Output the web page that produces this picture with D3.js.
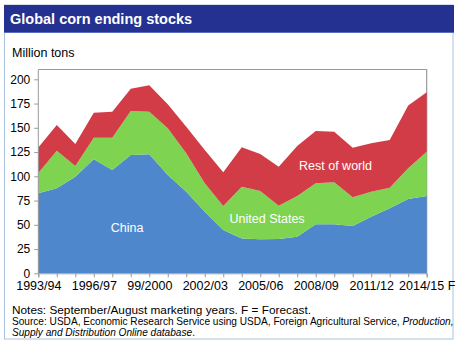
<!DOCTYPE html>
<html><head><meta charset="utf-8">
<script src="https://cdn.jsdelivr.net/npm/d3@7"></script>
<style>
html,body{margin:0;padding:0;background:#fff;}
svg{display:block;font-family:"Liberation Sans",Arial,Helvetica,sans-serif;}
</style></head>
<body>
<svg id="c" width="460" height="346"></svg>
<script>
const years = ["1993/94","1994/95","1995/96","1996/97","1997/98","1998/99","99/2000","2000/01","2001/02","2002/03","2003/04","2004/05","2005/06","2006/07","2007/08","2008/09","2009/10","2010/11","2011/12","2012/13","2013/14","2014/15 F"];
const tickLabels = ["1993/94","1996/97","99/2000","2002/03","2005/06","2008/09","2011/12","2014/15 F"];
const china = [82.5,87.6,99.6,117.5,106.5,122,122.7,101.3,84,63.5,44.6,36,35,35.3,37.7,50.5,50.5,48.8,58.4,67,76.6,79.7];
const unitedStates = [21,38.8,11,22.3,33.3,45.3,43.9,48.2,39.7,29.3,24.8,53.3,49.8,34.4,42,42.3,43.3,29.6,25.7,21.2,31.6,45.7];
const restOfWorld = [26.2,26.5,22.7,25.8,26.8,23,27.2,24.7,27.4,34.3,34.7,40.6,38.2,40.2,51.5,53.9,52.2,51.1,49.9,49.2,64.8,61.2];
const yTicks = [0,25,50,75,100,125,150,175,200];
const seriesNames = ["China","United States","Rest of world"];
const colors = ["#4F87CD","#7ED350","#D13C46"];

const svg = d3.select("#c");
// frame
svg.append("rect").attr("x",4.5).attr("y",5).attr("width",448.5).attr("height",334)
  .attr("fill","#fff").attr("stroke","#A8C2DD").attr("stroke-width",1);
svg.append("rect").attr("x",4).attr("y",5).attr("width",450).attr("height",27.5).attr("fill","#243190");
svg.append("line").attr("x1",4).attr("x2",454).attr("y1",32.5).attr("y2",32.5).attr("stroke","#5A6BC0").attr("stroke-width",1);
svg.append("text").attr("x",10).attr("y",24).attr("fill","#fff").attr("font-weight","bold")
  .attr("font-size",14.5).text("Global corn ending stocks");
svg.append("text").attr("x",12).attr("y",57).attr("fill","#000").attr("font-size",12.5).text("Million tons");

const x0 = 38.3, x1 = 426.7, yBot = 273.3, yTop = 69.5;
const x = d3.scalePoint().domain(years).range([x0,x1]);
const xi = d3.scaleLinear().domain([0,years.length-1]).range([x0,x1]);
const y = d3.scaleLinear().domain([0,200]).range([yBot,79.3]);

const data = years.map((yr,i)=>({year:yr, China:china[i], "United States":unitedStates[i], "Rest of world":restOfWorld[i]}));
const stack = d3.stack().keys(seriesNames)(data);
const area = d3.area().x(d=>x(d.data.year)).y0(d=>y(d[0])).y1(d=>y(d[1]));

// plot frame (top/right)
svg.append("path").attr("d",`M${x0},${yTop}H${x1}V${yBot}`).attr("fill","none").attr("stroke","#999").attr("stroke-width",1.2);

svg.selectAll("path.layer").data(stack).join("path").attr("class","layer")
  .attr("d",area).attr("fill",(d,i)=>colors[i]);

// y axis
const yAxis = d3.axisLeft(y).tickValues(yTicks).tickSize(4).tickPadding(4);
const gy = svg.append("g").attr("transform",`translate(${x0},0)`).call(yAxis);
gy.select(".domain").attr("d",`M-0,${yTop}V${yBot}`).attr("stroke","#999");
gy.selectAll(".tick line").attr("stroke","#999");
gy.selectAll("text").attr("font-size",12).attr("fill","#000").attr("font-family","Liberation Sans, Arial, sans-serif");

// x axis
const xAxis = d3.axisBottom(x).tickSize(4).tickPadding(4).tickFormat(d=>tickLabels.includes(d)?d:"");
const gx = svg.append("g").attr("transform",`translate(0,${yBot})`).call(xAxis);
gx.select(".domain").attr("stroke","#999");
gx.selectAll(".tick line").attr("stroke","#999");
gx.selectAll("text").attr("font-size",12.5).attr("fill","#000").attr("font-family","Liberation Sans, Arial, sans-serif");

// series labels
const lab = [
  {t:"China", i:4.8, v:43},
  {t:"United States", i:12.37, v:52},
  {t:"Rest of world", i:16.07, v:106.5}
];
svg.selectAll("text.lab").data(lab).join("text").attr("class","lab")
  .attr("x",d=>xi(d.i)).attr("y",d=>y(d.v)).attr("text-anchor","middle")
  .attr("fill","#fff").attr("font-size",12.5).text(d=>d.t);

// notes
const notes = svg.append("g").attr("fill","#000");
notes.append("text").attr("x",12).attr("y",313.5).attr("font-size",11).attr("textLength",299).attr("lengthAdjust","spacingAndGlyphs")
  .text("Notes: September/August marketing years. F = Forecast.");
const s = notes.append("text").attr("x",12).attr("y",325).attr("font-size",10.1);
s.append("tspan").text("Source: USDA, Economic Research Service using USDA, Foreign Agricultural Service, ");
s.append("tspan").attr("font-style","italic").text("Production,");
const s2 = notes.append("text").attr("x",12).attr("y",336).attr("font-size",10.1);
s2.append("tspan").attr("font-style","italic").text("Supply and Distribution Online database");
s2.append("tspan").text(".");
</script>
</body></html>
